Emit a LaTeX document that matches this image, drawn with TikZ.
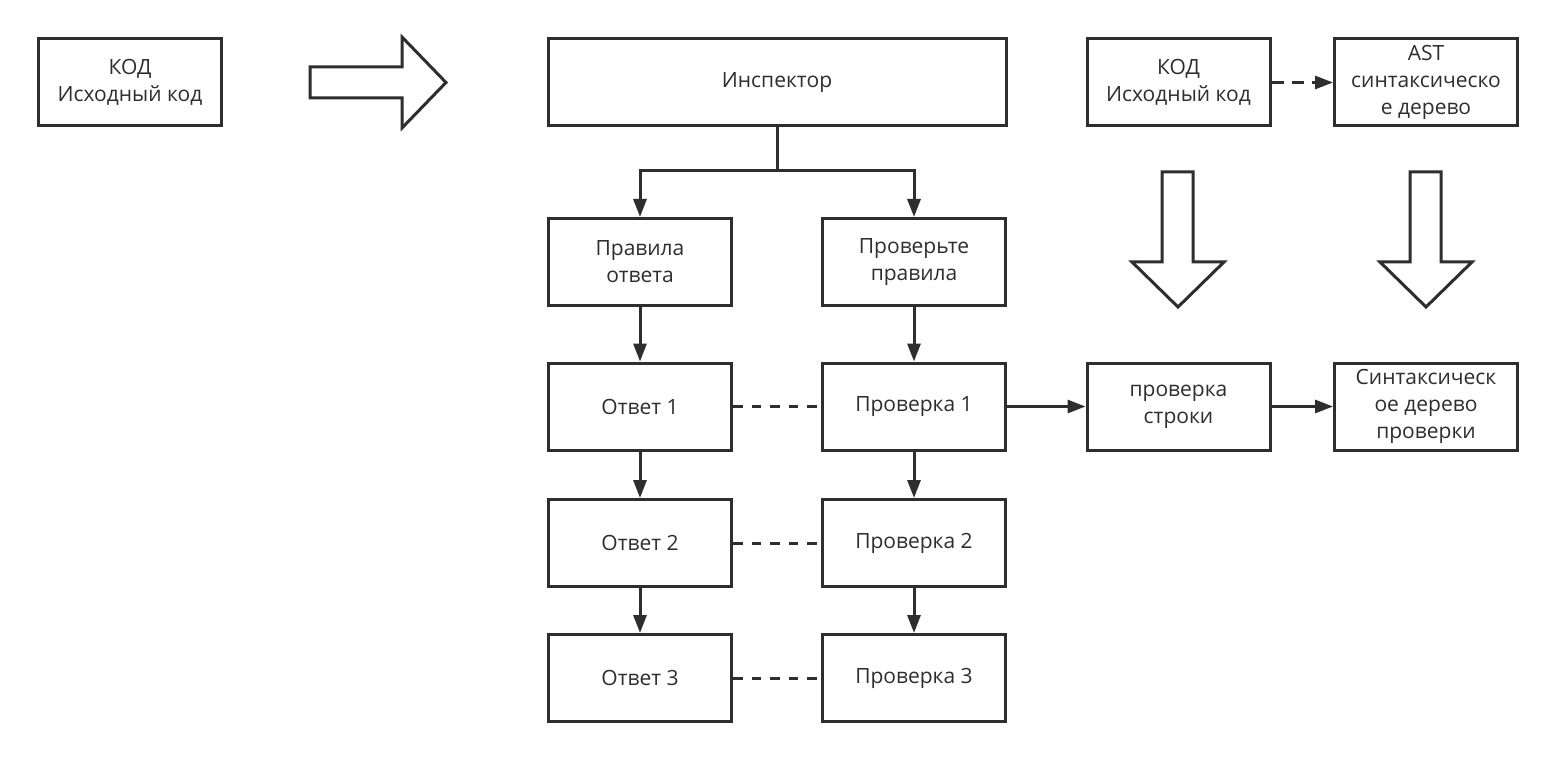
\documentclass[tikz,border=0pt]{standalone}
\usepackage{fontspec}
\setmainfont{Open Sans}
\usetikzlibrary{arrows.meta}
\definecolor{ink}{HTML}{2E2E2E}
\begin{document}
\begin{tikzpicture}[x=1pt,y=-1pt,
  box/.style={draw=ink,line width=3pt,fill=white,rectangle,inner sep=0pt,
    minimum width=183pt,minimum height=87pt,align=center,text=ink,
    font=\fontsize{21pt}{27pt}\selectfont},
  conn/.style={draw=ink,line width=3pt,-{Triangle[length=18pt,width=13pt]}},
  dline/.style={draw=ink,line width=3pt,dash pattern=on 9.5pt off 9pt},
  blockarrow/.style={draw=ink,line width=3pt,fill=white,line join=miter}
]
\useasboundingbox[fill=white] (0,0) rectangle (1555,759);

% nodes
\node[box] (kod1) at (130,82.5) {КОД\\Исходный код};
\node[box,minimum width=458pt] (insp) at (777,82.5) {Инспектор};
\node[box] (kod2) at (1178.5,82.5) {КОД\\Исходный код};
\node[box] (ast) at (1426,82.5) {AST\\синтаксическо\\е дерево};

\node[box] (prav) at (640,262) {Правила\\ответа};
\node[box] (prov) at (914,262) {Проверьте\\правила};

\node[box] (otv1) at (640,406.5) {Ответ 1};
\node[box] (pr1) at (914,406.5) {Проверка 1};
\node[box] (str) at (1178.5,406.5) {проверка\\строки};
\node[box] (syn) at (1426,406.5) {Синтаксическ\\ое дерево\\проверки};

\node[box] (otv2) at (640,543) {Ответ 2};
\node[box] (pr2) at (914,543) {Проверка 2};

\node[box] (otv3) at (640,678) {Ответ 3};
\node[box] (pr3) at (914,678) {Проверка 3};

% block arrows
\draw[blockarrow] (310,67) -- (402,67) -- (402,37) -- (446,82.5) -- (402,128) -- (402,98) -- (310,98) -- cycle;
\draw[blockarrow] (1162,172) -- (1193,172) -- (1193,262) -- (1224,262) -- (1178,307) -- (1132,262) -- (1162,262) -- cycle;
\draw[blockarrow] (1410,172) -- (1441,172) -- (1441,262) -- (1472,262) -- (1426,307) -- (1380,262) -- (1410,262) -- cycle;

% connectors
\coordinate (split) at (777,171);
\draw[draw=ink,line width=3pt] (insp.south) -- (split);
\draw[conn] (split) -| (prav.north);
\draw[conn] (split) -| (prov.north);

\draw[conn] (prav) -- (otv1);
\draw[conn] (otv1) -- (otv2);
\draw[conn] (otv2) -- (otv3);
\draw[conn] (prov) -- (pr1);
\draw[conn] (pr1) -- (pr2);
\draw[conn] (pr2) -- (pr3);

\draw[dline] (otv1) -- (pr1);
\draw[dline] (otv2) -- (pr2);
\draw[dline] (otv3) -- (pr3);

\draw[conn] (pr1) -- (str);
\draw[conn] (str) -- (syn);
\draw[conn,dash pattern=on 12pt off 8pt] (kod2) -- (ast);
\end{tikzpicture}
\end{document}
